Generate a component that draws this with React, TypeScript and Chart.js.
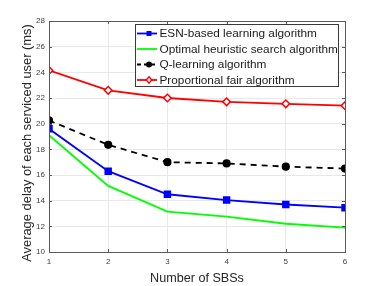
import React, { useEffect, useRef } from "react";
import { Chart, registerables } from "chart.js";

Chart.register(...registerables);

const categories = [1, 2, 3, 4, 5, 6];
const esnValues = [19.6, 16.3, 14.5, 14.05, 13.7, 13.45];
const optimalValues = [19.1, 15.15, 13.15, 12.75, 12.2, 11.9];
const qLearningValues = [20.25, 18.35, 17.0, 16.9, 16.65, 16.5];
const propFairValues = [24.15, 22.6, 22.0, 21.7, 21.55, 21.4];
const yTicks = [10, 12, 14, 16, 18, 20, 22, 24, 26, 28];
const seriesLabels = [
  "ESN-based learning algorithm",
  "Optimal heuristic search algorithm",
  "Q-learning algorithm",
  "Proportional fair algorithm",
];
const xTitle = "Number of SBSs";
const yTitle = "Average delay of each serviced user (ms)";

const FONT = "'Liberation Sans', Arial, sans-serif";
const AXIS_COLOR = "#5a5a5a";

const boxPlugin = {
  id: "boxAndLegend",
  afterDraw(chart: any) {
    const { ctx, chartArea } = chart;
    const { left, right, top, bottom } = chartArea;
    ctx.save();
    ctx.strokeStyle = AXIS_COLOR;
    ctx.lineWidth = 1;
    const xs = chart.scales.x;
    const ys = chart.scales.y;
    ctx.beginPath();
    categories.forEach((c) => {
      const px = Math.round(xs.getPixelForValue(c)) + 0.5;
      ctx.moveTo(px, bottom);
      ctx.lineTo(px, bottom - 3);
      ctx.moveTo(px, top);
      ctx.lineTo(px, top + 3);
    });
    yTicks.forEach((t) => {
      const py = Math.round(ys.getPixelForValue(t)) + 0.5;
      ctx.moveTo(left, py);
      ctx.lineTo(left + 3, py);
      ctx.moveTo(right, py);
      ctx.lineTo(right - 3, py);
    });
    ctx.stroke();
    ctx.strokeRect(Math.round(left) + 0.5, Math.round(top) + 0.5, Math.round(right - left), Math.round(bottom - top));

    // y title
    ctx.save();
    ctx.translate(27, 143);
    ctx.rotate(-Math.PI / 2);
    ctx.font = `12.9px ${FONT}`;
    ctx.fillStyle = "#262626";
    ctx.textAlign = "center";
    ctx.textBaseline = "middle";
    ctx.fillText(yTitle, 0, 0);
    ctx.restore();

    // legend
    const lx = 135.5, ly = 24.5, lw = 203, lh = 62;
    ctx.fillStyle = "#ffffff";
    ctx.fillRect(lx, ly, lw, lh);
    ctx.strokeStyle = "#3a3a3a";
    ctx.lineWidth = 1;
    ctx.strokeRect(lx, ly, lw, lh);
    ctx.font = `11.8px ${FONT}`;
    ctx.textBaseline = "middle";
    ctx.textAlign = "left";
    const rowY = [33.5, 49, 64.5, 80];
    chart.data.datasets.forEach((ds: any, i: number) => {
      const y = rowY[i];
      ctx.save();
      ctx.strokeStyle = ds.borderColor;
      ctx.lineWidth = 1.8;
      if (ds.borderDash && ds.borderDash.length) ctx.setLineDash([4, 3]);
      ctx.beginPath();
      ctx.moveTo(137, y);
      ctx.lineTo(157, y);
      ctx.stroke();
      ctx.setLineDash([]);
      if (ds.pointRadius > 0) {
        const cx = 149;
        if (ds.pointStyle === "rect") {
          ctx.fillStyle = ds.pointBackgroundColor;
          ctx.fillRect(cx - 2.5, y - 2.5, 5, 5);
        } else if (ds.pointStyle === "circle") {
          ctx.fillStyle = ds.pointBackgroundColor;
          ctx.beginPath();
          ctx.arc(cx, y, 3, 0, Math.PI * 2);
          ctx.fill();
        } else if (ds.pointStyle === "rectRot") {
          ctx.fillStyle = "#ffffff";
          ctx.lineWidth = 1.4;
          ctx.beginPath();
          ctx.moveTo(cx, y - 3.2);
          ctx.lineTo(cx + 2.7, y);
          ctx.lineTo(cx, y + 3.2);
          ctx.lineTo(cx - 2.7, y);
          ctx.closePath();
          ctx.fill();
          ctx.stroke();
        }
      }
      ctx.restore();
      ctx.fillStyle = "#1a1a1a";
      ctx.fillText(ds.label, 159.5, y + 0.5);
    });
    ctx.restore();
  },
};

export default function App() {
  const canvasRef = useRef<HTMLCanvasElement | null>(null);

  useEffect(() => {
    document.body.style.margin = "0";
    const canvas = canvasRef.current;
    if (!canvas) return;
    const chart = new Chart(canvas, {
      type: "line",
      data: {
        labels: categories,
        datasets: [
          {
            label: seriesLabels[0],
            data: categories.map((c, i) => ({ x: c, y: esnValues[i] })),
            borderColor: "#0000ff",
            backgroundColor: "#0000ff",
            pointBackgroundColor: "#0000ff",
            pointBorderColor: "#0000ff",
            pointStyle: "rect",
            pointRadius: 4,
            borderWidth: 1.8,
          },
          {
            label: seriesLabels[1],
            data: categories.map((c, i) => ({ x: c, y: optimalValues[i] })),
            borderColor: "#00ff00",
            backgroundColor: "#00ff00",
            pointBackgroundColor: "#00ff00",
            pointRadius: 0,
            borderWidth: 1.8,
          },
          {
            label: seriesLabels[2],
            data: categories.map((c, i) => ({ x: c, y: qLearningValues[i] })),
            borderColor: "#000000",
            backgroundColor: "#000000",
            pointBackgroundColor: "#000000",
            pointBorderColor: "#000000",
            pointStyle: "circle",
            pointRadius: 3.2,
            borderWidth: 1.8,
            borderDash: [6, 5],
          },
          {
            label: seriesLabels[3],
            data: categories.map((c, i) => ({ x: c, y: propFairValues[i] })),
            borderColor: "#ff0000",
            backgroundColor: "#ffffff",
            pointBackgroundColor: "#ffffff",
            pointBorderColor: "#ff0000",
            pointStyle: "rectRot",
            pointRadius: 3.8,
            pointBorderWidth: 1.5,
            borderWidth: 1.8,
          },
        ],
      },
      options: {
        animation: false,
        responsive: false,
        maintainAspectRatio: false,
        layout: { padding: { top: 21, right: 37, left: 0, bottom: 0 } },
        plugins: {
          legend: { display: false },
          tooltip: { enabled: false },
        },
        elements: { line: { tension: 0 } },
        scales: {
          x: {
            type: "linear",
            min: 1,
            max: 6,
            afterFit: (s: any) => {
              s.height = 34;
            },
            afterBuildTicks: (s: any) => {
              s.ticks = categories.map((v) => ({ value: v }));
            },
            grid: { color: "#e8e8e8", drawTicks: false, lineWidth: 1 },
            border: { display: false },
            ticks: {
              color: "#404040",
              font: { family: FONT, size: 8 },
              padding: 5,
              maxRotation: 0,
            },
            title: {
              display: true,
              text: xTitle,
              color: "#262626",
              font: { family: FONT, size: 12.6 },
              padding: { top: 0, bottom: 0 },
            },
          },
          y: {
            min: 10,
            max: 28,
            afterFit: (s: any) => {
              s.width = 49;
            },
            afterBuildTicks: (s: any) => {
              s.ticks = yTicks.map((v) => ({ value: v }));
            },
            grid: { color: "#e8e8e8", drawTicks: false, lineWidth: 1 },
            border: { display: false },
            ticks: {
              color: "#404040",
              font: { family: FONT, size: 8 },
              padding: 4,
            },
            title: { display: false },
          },
        },
      },
      plugins: [boxPlugin],
    });
    return () => chart.destroy();
  }, []);

  return (
    <div style={{ width: 382, height: 286 }}>
      <canvas ref={canvasRef} width={382} height={286} style={{ display: "block" }} />
    </div>
  );
}
